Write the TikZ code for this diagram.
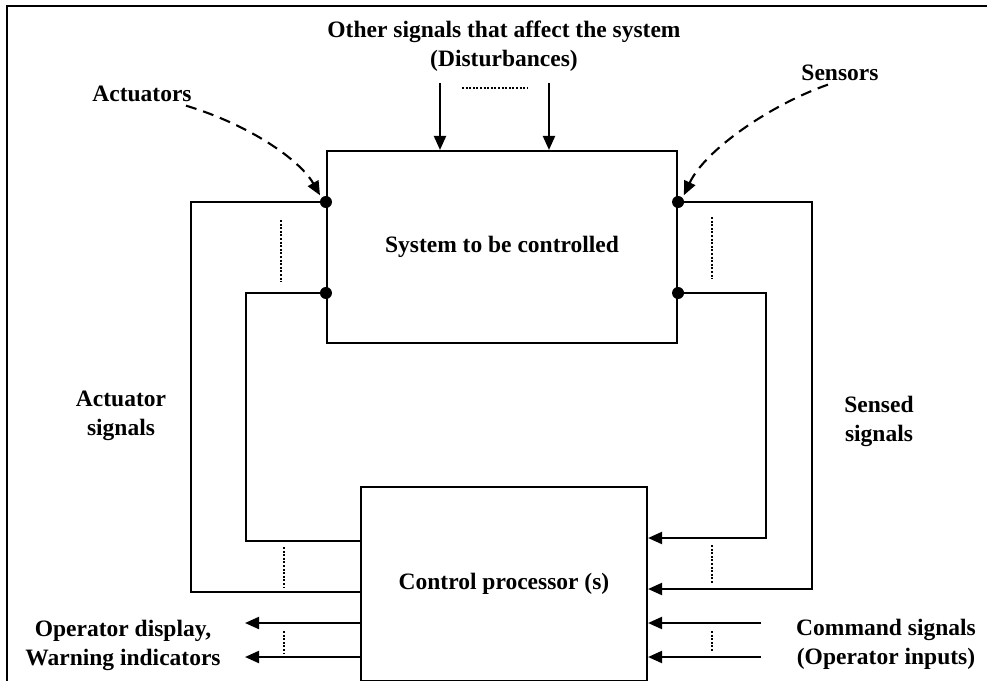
\documentclass[tikz,border=0pt]{standalone}
\usepackage{fontspec}
\setmainfont{Liberation Serif}
\usetikzlibrary{arrows.meta}

\begin{document}
\begin{tikzpicture}[
    x=1pt, y=-1pt,
    font=\fontsize{23.5}{29}\selectfont\bfseries,
    line width=2.1pt,
    block/.style={draw, inner sep=0pt},
    label/.style={align=center},
    sig/.style={-{Triangle[length=14pt, width=12pt]}},
    hint/.style={dash pattern=on 11pt off 7pt, -{Triangle[length=14pt, width=12pt]}},
    gap/.style={line width=1.6pt, dash pattern=on 2pt off 1.6pt},
    jn/.style={circle, fill, inner sep=0pt, minimum size=12pt}
  ]
    \useasboundingbox (0,0) rectangle (987,680);
    \clip (0,0) rectangle (987,680);
    \draw (7,6) rectangle (1010,700);

    \node[block, minimum width=350pt, minimum height=192pt] (sys) at (502,247) {System to be controlled};
    \node[block, minimum width=286pt, minimum height=194pt] (ctrl) at (504,584) {Control processor (s)};

    \node[label] (dist) at (504,46) {Other signals that affect the system\\(Disturbances)};
    \node[anchor=base] (actl) at (142,101) {Actuators};
    \node[anchor=base] (senl) at (840,80) {Sensors};
    \node[label] (actsig) at (121,416) {Actuator\\signals};
    \node[label] (sensig) at (879,421) {Sensed\\signals};
    \node[label] (disp) at (123,645) {Operator display,\\Warning indicators};
    \node[label] (cmd) at (886,644) {Command signals\\(Operator inputs)};

    \node[jn] (a1) at (sys.west |- 0,202) {};
    \node[jn] (a2) at (sys.west |- 0,293) {};
    \node[jn] (s1) at (sys.east |- 0,202) {};
    \node[jn] (s2) at (sys.east |- 0,293) {};

    \coordinate (d1) at (440,83);
    \coordinate (d2) at (549,83);
    \coordinate (out1) at (245,623);
    \coordinate (out2) at (245,657);
    \coordinate (in1) at (761,623);
    \coordinate (in2) at (761,657);

    \draw[sig] (d1) -- (d1 |- sys.north);
    \draw[sig] (d2) -- (d2 |- sys.north);
    \draw[gap] (462,88) -- (527,88);

    \draw[hint, shorten >=2pt] ([xshift=-10pt]actl.south east) .. controls (250,125) and (300,160) .. (a1.north west);
    \draw[hint, shorten >=2pt] ([xshift=-12pt]senl.south) .. controls (770,105) and (705,150) .. (s1.north east);

    \draw (a1.center) -| (191,592) -- (ctrl.west |- 0,592);
    \draw (a2.center) -| (246,541) -- (ctrl.west |- 0,541);
    \draw[sig] (s1.center) -| (812,589) -- (ctrl.east |- 0,589);
    \draw[sig] (s2.center) -| (766,538) -- (ctrl.east |- 0,538);

    \draw[sig] (ctrl.west |- out1) -- (out1);
    \draw[sig] (ctrl.west |- out2) -- (out2);
    \draw[sig] (in1) -- (in1 -| ctrl.east);
    \draw[sig] (in2) -- (in2 -| ctrl.east);

    \draw[gap] (281,220) -- (281,282);
    \draw[gap] (712,217) -- (712,279);
    \draw[gap] (284,547) -- (284,587);
    \draw[gap] (712,545) -- (712,584);
    \draw[gap] (284,631) -- (284,653);
    \draw[gap] (712,631) -- (712,652);
  \end{tikzpicture}
\end{document}
